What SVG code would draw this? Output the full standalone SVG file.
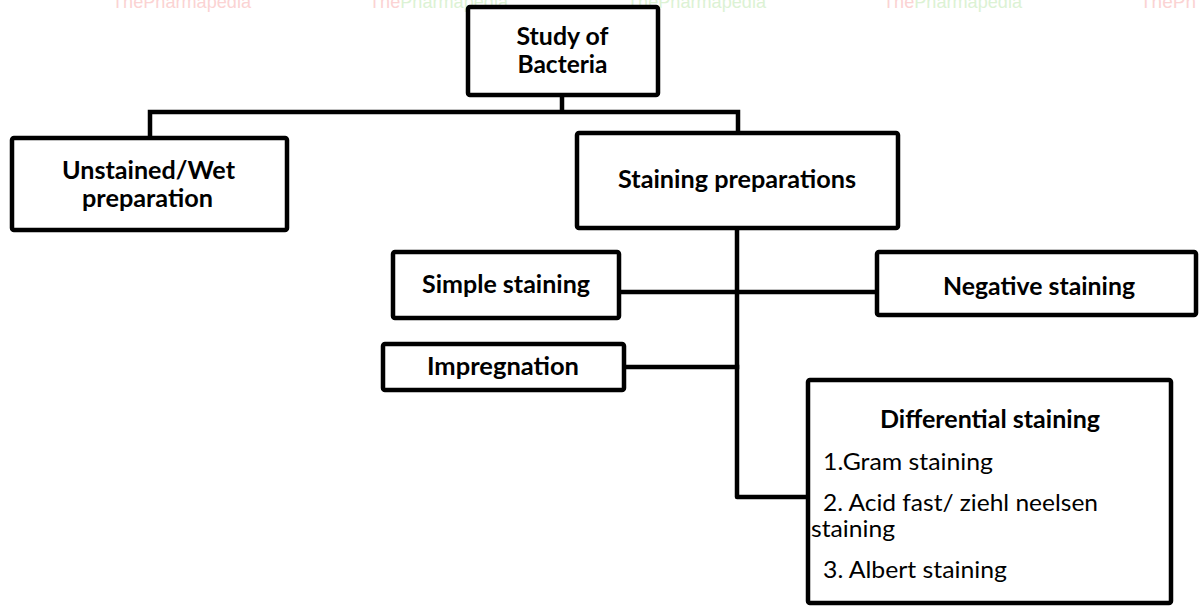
<svg xmlns="http://www.w3.org/2000/svg" width="1199" height="614" viewBox="0 0 1199 614">
<style>
.box{fill:#fff;stroke:#000;stroke-width:4.5;stroke-linejoin:round}
.con{fill:none;stroke:#000;stroke-width:4.5;stroke-linejoin:round;stroke-linecap:square}
.b{font-family:Lato,"Liberation Sans",sans-serif;font-weight:bold;font-size:24px;fill:#000;text-anchor:middle}
.r{font-family:Lato,"Liberation Sans",sans-serif;font-size:24px;fill:#000}
.wm{font-family:"Liberation Sans",sans-serif;font-size:19px}
.pk{fill:#fbd3d3}.gr{fill:#dcf2d4}
</style>
<rect width="1199" height="614" fill="#fff"/>
<g id="watermark" class="wm">
<text x="112" y="8" textLength="139" lengthAdjust="spacingAndGlyphs"><tspan class="pk">ThePharmapedia</tspan></text>
<text x="369" y="8" textLength="139" lengthAdjust="spacingAndGlyphs"><tspan class="pk">The</tspan><tspan class="gr">Pharmapedia</tspan></text>
<text x="627" y="8" textLength="139" lengthAdjust="spacingAndGlyphs"><tspan class="gr">ThePharmapedia</tspan></text>
<text x="883" y="8" textLength="139" lengthAdjust="spacingAndGlyphs"><tspan class="pk">The</tspan><tspan class="gr">Pharmapedia</tspan></text>
<text x="1140" y="8" class="pk">ThePh</text>
</g>
<g id="connectors">
<path class="con" d="M562,95 V112 M150,112 H738 M150,112 V138 M738,112 V133"/>
<path class="con" d="M737,228 V497 H808"/>
<path class="con" d="M619,292 H877"/>
<path class="con" d="M624,367 H737"/>
</g>
<g id="study">
<rect class="box" x="468" y="7" width="190" height="88" rx="2"/>
<text class="b" x="562.5" y="45" textLength="92" lengthAdjust="spacingAndGlyphs">Study of</text>
<text class="b" x="562.5" y="73" textLength="90" lengthAdjust="spacingAndGlyphs">Bacteria</text>
</g>
<g id="unstained">
<rect class="box" x="12" y="138" width="275" height="92" rx="2"/>
<text class="b" x="148.5" y="179" textLength="173" lengthAdjust="spacingAndGlyphs">Unstained/Wet</text>
<text class="b" x="147.5" y="207" textLength="131" lengthAdjust="spacingAndGlyphs">preparation</text>
</g>
<g id="staining">
<rect class="box" x="577" y="133" width="321" height="95" rx="2"/>
<text class="b" x="737" y="188" textLength="238" lengthAdjust="spacingAndGlyphs">Staining preparations</text>
</g>
<g id="simple">
<rect class="box" x="393" y="252" width="226" height="66" rx="2"/>
<text class="b" x="506" y="293" textLength="168" lengthAdjust="spacingAndGlyphs">Simple staining</text>
</g>
<g id="negative">
<rect class="box" x="877" y="252" width="319" height="63" rx="2"/>
<text class="b" x="1039" y="295" textLength="192" lengthAdjust="spacingAndGlyphs">Negative staining</text>
</g>
<g id="impregnation">
<rect class="box" x="383" y="344" width="241" height="46" rx="2"/>
<text class="b" x="503" y="375" textLength="152" lengthAdjust="spacingAndGlyphs">Impregnation</text>
</g>
<g id="differential">
<rect class="box" x="808" y="380" width="363" height="223" rx="2"/>
<text class="b" x="990" y="428" textLength="220" lengthAdjust="spacingAndGlyphs">Differential staining</text>
<text class="r" x="823" y="470" textLength="170" lengthAdjust="spacingAndGlyphs">1.Gram staining</text>
<text class="r" x="823" y="511" textLength="275" lengthAdjust="spacingAndGlyphs">2. Acid fast/ ziehl neelsen</text>
<text class="r" x="811" y="537" textLength="84" lengthAdjust="spacingAndGlyphs">staining</text>
<text class="r" x="823" y="578" textLength="184" lengthAdjust="spacingAndGlyphs">3. Albert staining</text>
</g>
</svg>
